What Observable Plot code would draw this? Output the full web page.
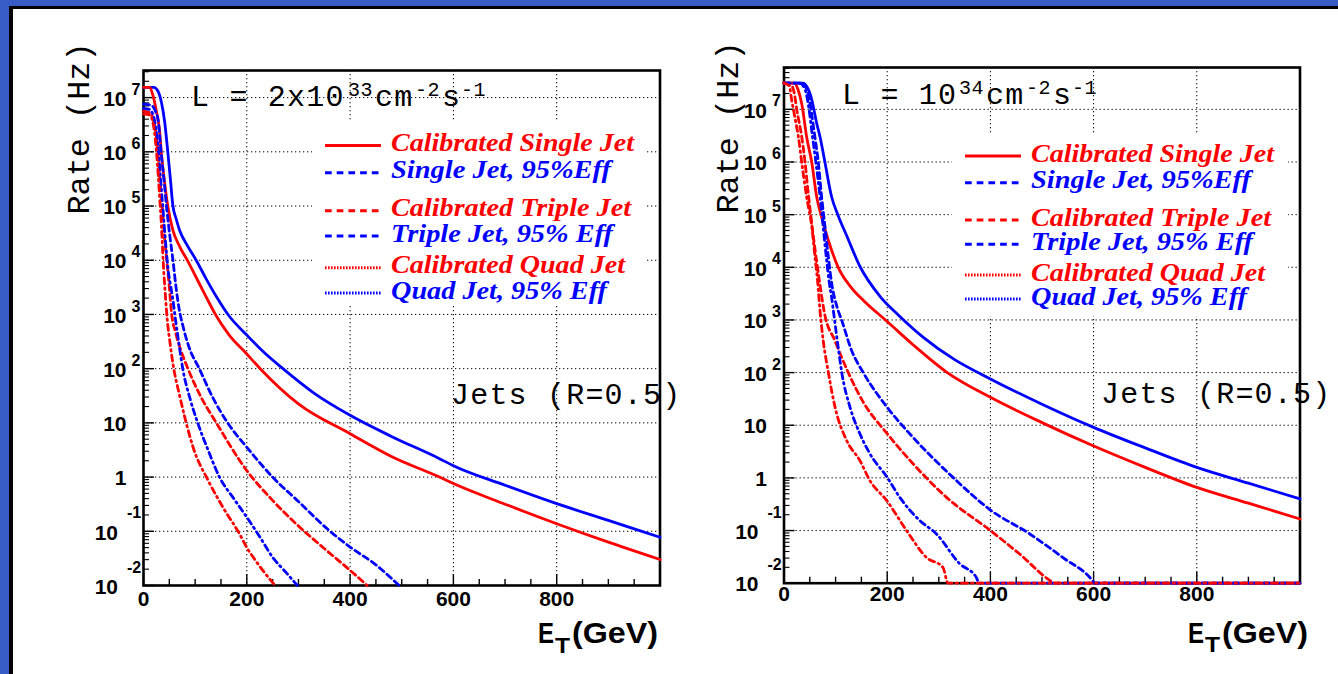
<!DOCTYPE html>
<html><head><meta charset="utf-8">
<script src="https://cdn.jsdelivr.net/npm/d3@7"></script>
<script src="https://cdn.jsdelivr.net/npm/@observablehq/plot@0.6"></script>
<style>
html,body{margin:0;padding:0;overflow:hidden;background:#fff;}
#page{position:relative;width:1338px;height:674px;background:#385cc6;overflow:hidden;}
#sheet{position:absolute;left:9px;top:6px;right:0;bottom:0;background:#fff;border-left:4px solid #000;border-top:3px solid #000;}
#charts{position:absolute;left:0;top:0;width:1338px;height:674px;}
</style></head><body>
<div id="page"><div id="sheet"></div><div id="charts"></div></div>
<script>
// ---------- tick labels ----------
const xTickLabels = [0, 200, 400, 600, 800];
const yTickExp  = [-2, -1, 0, 1, 2, 3, 4, 5, 6, 7];
const yTickBase = ["10", "10", "1", "10", "10", "10", "10", "10", "10", "10"];
const yTickSup  = ["-2", "-1", "", "", "2", "3", "4", "5", "6", "7"];

// ---------- legend ----------
const seriesNames  = ["Calibrated Single Jet", "Single Jet, 95%Eff", "Calibrated Triple Jet", "Triple Jet, 95% Eff", "Calibrated Quad Jet", "Quad Jet, 95% Eff"];
const seriesColors = ["#ff0000", "#0000ff", "#ff0000", "#0000ff", "#ff0000", "#0000ff"];

// ---------- left panel: L = 2x10^33 cm^-2 s^-1  (E_T in GeV, log10 of rate in Hz) ----------
const A_calSingle_E   = [0, 12, 18, 25, 31, 34.4, 40, 47, 57, 70, 86, 100, 121, 141, 166, 200, 226, 300, 400, 480, 573, 600, 700, 800, 900, 1000];
const A_calSingle_lgR = [7.19, 7.19, 7.05, 6.75, 6.4, 6.0, 5.5, 5.0, 4.55, 4.25, 3.98, 3.72, 3.33, 2.97, 2.62, 2.27, 2.0, 1.35, 0.8, 0.38, 0.0, -0.12, -0.5, -0.86, -1.2, -1.52];
const A_single95_E    = [0, 20, 28, 35, 41, 47, 52, 57, 63, 70, 85, 102, 120, 141, 165, 200, 230, 270, 330, 400, 480, 573, 600, 700, 800, 900, 1000];
const A_single95_lgR  = [7.19, 7.19, 7.12, 6.9, 6.55, 6.0, 5.5, 5.0, 4.77, 4.55, 4.27, 4.0, 3.68, 3.33, 2.98, 2.62, 2.33, 2.0, 1.55, 1.14, 0.75, 0.34, 0.21, -0.15, -0.49, -0.8, -1.11];
const A_calTriple_E   = [0, 12, 20, 26, 31, 36, 41, 46, 50, 54, 62, 72, 86, 110, 141, 200, 250, 302, 354, 400, 433];
const A_calTriple_lgR = [6.75, 6.72, 6.55, 6.2, 5.6, 5.0, 4.4, 3.9, 3.5, 3.05, 2.67, 2.35, 2.0, 1.5, 1.0, 0.12, -0.43, -0.92, -1.35, -1.72, -2.0];
const A_triple95_E    = [0, 15, 23, 28, 34, 40, 45, 51, 57, 63, 69, 76, 88, 108, 135, 163, 200, 250, 300, 360, 400, 450, 495];
const A_triple95_lgR  = [6.88, 6.86, 6.75, 6.6, 6.0, 5.45, 4.95, 4.45, 4.0, 3.5, 3.1, 2.8, 2.4, 2.0, 1.45, 1.0, 0.55, 0.0, -0.45, -0.99, -1.29, -1.62, -2.0];
const A_calQuad_E     = [0, 12, 20, 26, 31, 35, 38, 42, 46, 51, 57, 70, 80, 96, 125, 154, 186, 200, 217, 246, 255];
const A_calQuad_lgR   = [6.7, 6.68, 6.45, 5.9, 5.2, 4.6, 4.0, 3.4, 2.9, 2.5, 2.09, 1.5, 1.1, 0.55, -0.06, -0.56, -1.05, -1.3, -1.54, -1.9, -2.0];
const A_quad95_E      = [0, 12, 22, 28, 33, 38, 43, 48, 53, 57, 62, 68, 76, 90, 105, 125, 147, 175, 200, 225, 250, 275, 298];
const A_quad95_lgR    = [6.8, 6.78, 6.55, 6.1, 5.5, 4.9, 4.3, 3.8, 3.5, 3.26, 2.9, 2.5, 2.0, 1.45, 1.0, 0.5, 0.0, -0.4, -0.74, -1.1, -1.48, -1.75, -2.0];

// ---------- right panel: L = 10^34 cm^-2 s^-1 ----------
const B_calSingle_E   = [0, 20, 27, 34.5, 44, 54, 63.5, 73, 89, 105, 130, 155, 200, 250, 315, 400, 500, 598, 700, 800, 900, 1000];
const B_calSingle_lgR = [7.5, 7.5, 7.38, 7.1, 6.47, 5.98, 5.33, 4.95, 4.42, 4.0, 3.62, 3.36, 2.97, 2.53, 2.01, 1.53, 1.05, 0.615, 0.2, -0.18, -0.48, -0.78];
const B_single95_E    = [0, 37, 45, 52, 57, 63, 70, 79.6, 92.5, 105, 121.5, 147, 186, 221, 270, 330, 400, 500, 600, 700, 800, 900, 1000];
const B_single95_lgR  = [7.5, 7.5, 7.42, 7.25, 7.04, 6.75, 6.47, 5.98, 5.33, 4.98, 4.6, 4.02, 3.45, 3.1, 2.67, 2.25, 1.88, 1.4, 0.96, 0.57, 0.2, -0.1, -0.4];
const B_calTriple_E   = [0, 15, 20, 25, 34.5, 41, 47, 53, 58, 63.5, 70, 78, 99, 124.6, 153.6, 200, 250, 315, 400, 456, 521, 525, 1000];
const B_calTriple_lgR = [7.5, 7.45, 7.3, 6.98, 6.47, 5.98, 5.4, 4.9, 4.5, 4.1, 3.65, 3.15, 2.6, 2.0, 1.44, 0.84, 0.27, -0.37, -1.0, -1.44, -1.98, -2.0, -2.0];
const B_triple95_E    = [0, 30, 40, 47, 53, 60, 66.7, 73, 79.6, 86, 92.5, 102, 112, 131, 153.6, 200, 250, 327.5, 400, 475.7, 540, 598, 602, 1000];
const B_triple95_lgR  = [7.5, 7.5, 7.45, 7.3, 6.95, 6.47, 5.98, 5.33, 4.76, 4.19, 3.69, 3.27, 2.99, 2.42, 2.0, 1.34, 0.77, 0.01, -0.61, -1.06, -1.51, -1.95, -2.0, -2.0];
const B_calQuad_E     = [0, 10, 15, 22, 28, 34.5, 44, 54, 60, 65, 70, 76, 86, 99, 121.5, 147, 166.5, 199, 237.5, 276, 308, 318, 1000];
const B_calQuad_lgR   = [7.5, 7.45, 7.17, 6.8, 6.47, 5.98, 5.33, 4.76, 4.2, 3.75, 3.15, 2.61, 2.0, 1.34, 0.71, 0.33, -0.05, -0.43, -1.0, -1.51, -1.7, -2.0, -2.0];
const B_quad95_E      = [0, 30, 40, 47, 55, 62, 70, 76, 82, 88, 92, 96, 105, 112, 128, 147, 166.5, 200, 224.5, 263, 295, 340.5, 372.7, 378, 1000];
const B_quad95_lgR    = [7.5, 7.5, 7.4, 7.1, 6.5, 5.98, 5.33, 4.76, 4.19, 3.69, 3.45, 3.15, 2.48, 2.0, 1.34, 0.84, 0.46, 0.01, -0.37, -0.81, -1.06, -1.63, -1.89, -2.0, -2.0];

// ---------- helpers ----------
const table = (E, lg) => E.map((e, i) => ({E: e, rate: Math.pow(10, lg[i])}));
const SANS = "Liberation Sans, Arial, Helvetica, sans-serif";
const MONO = "Liberation Mono, Courier New, monospace";
const SERIF = "Liberation Serif, Times New Roman, serif";
const dashTriple = "6 4";
const dashQuad = "6 4 1.5 4";

function buildPanel(cfg) {
  const innerW = cfg.right - cfg.left, innerH = cfg.bottom - cfg.top;
  const yGrid = [-1, 0, 1, 2, 3, 4, 5, 6, 7].map(e => Math.pow(10, e));
  const yMajor = yTickExp.map(e => Math.pow(10, e));
  const yMinor = [];
  for (let e = -2; e <= 7; e++) for (let m = 2; m <= 9; m++) { const v = m * Math.pow(10, e); if (v < cfg.yMax) yMinor.push(v); }
  const xMajor = [0, 200, 400, 600, 800, 1000];
  const xMinor = d3.range(50, 1000, 50).filter(v => v % 200 !== 0);
  const gridStyle = {stroke: "#000", strokeOpacity: 1, strokeWidth: 1, strokeDasharray: "1.3 2.7"};
  const labels = yTickExp.map((e, i) => ({v: Math.pow(10, e), base: yTickBase[i], sup: yTickSup[i], neg: e < 0}));
  const lw = 2.8;
  const s = cfg.series;
  const marks = [
    Plot.gridX([200, 400, 600, 800], gridStyle),
    Plot.gridY(yGrid, gridStyle),
    Plot.tickY(yMinor, {y: d => d, insetRight: innerW - 6, stroke: "#000", strokeWidth: 1.1}),
    Plot.tickY(yMajor, {y: d => d, insetRight: innerW - 11, stroke: "#000", strokeWidth: 1.4}),
    Plot.tickX(xMinor, {x: d => d, insetTop: innerH - 6, stroke: "#000", strokeWidth: 1.4}),
    Plot.tickX(xMajor, {x: d => d, insetTop: innerH - 11, stroke: "#000", strokeWidth: 1.4}),
    Plot.frame({stroke: "#000", strokeWidth: 2.6}),
    Plot.line(table(s[1][0], s[1][1]), {x: "E", y: "rate", stroke: seriesColors[1], strokeWidth: lw, curve: "monotone-x"}),
    Plot.line(table(s[0][0], s[0][1]), {x: "E", y: "rate", stroke: seriesColors[0], strokeWidth: lw, curve: "monotone-x"}),
    Plot.line(table(s[3][0], s[3][1]), {x: "E", y: "rate", stroke: seriesColors[3], strokeWidth: lw, strokeDasharray: dashTriple, curve: "monotone-x"}),
    Plot.line(table(s[2][0], s[2][1]), {x: "E", y: "rate", stroke: seriesColors[2], strokeWidth: lw, strokeDasharray: dashTriple, curve: "monotone-x"}),
    Plot.line(table(s[5][0], s[5][1]), {x: "E", y: "rate", stroke: seriesColors[5], strokeWidth: lw, strokeDasharray: dashQuad, curve: "monotone-x"}),
    Plot.line(table(s[4][0], s[4][1]), {x: "E", y: "rate", stroke: seriesColors[4], strokeWidth: lw, strokeDasharray: dashQuad, curve: "monotone-x"}),
    // y tick labels
    Plot.text(labels.filter(d => !d.neg), {y: "v", text: "base", frameAnchor: "left", textAnchor: "end", dx: -17, dy: 1.5, fontSize: 21, fontWeight: "bold", fontFamily: SANS, fill: "#000"}),
    Plot.text(labels.filter(d => d.neg), {y: "v", text: "base", frameAnchor: "left", textAnchor: "end", dx: -25.5, dy: 1.5, fontSize: 21, fontWeight: "bold", fontFamily: SANS, fill: "#000"}),
    Plot.text(labels.filter(d => !d.neg && d.sup), {y: "v", text: "sup", frameAnchor: "left", textAnchor: "start", dx: -12, dy: -8, fontSize: 16, fontWeight: "bold", fontFamily: SANS, fill: "#000"}),
    Plot.text(labels.filter(d => d.neg), {y: "v", text: "sup", frameAnchor: "left", textAnchor: "start", dx: -16.5, dy: -18, fontSize: 16, fontWeight: "bold", fontFamily: SANS, fill: "#000"}),
    // x tick labels
    Plot.text(xTickLabels, {x: d => d, text: d => String(d), frameAnchor: "bottom", dy: cfg.xLabelDy, fontSize: 21, fontWeight: "bold", fontFamily: SANS, fill: "#000"})
  ];
  const svg = Plot.plot({
    width: 1338, height: 674,
    marginLeft: cfg.left, marginRight: 1338 - cfg.right, marginTop: cfg.top, marginBottom: 674 - cfg.bottom,
    x: {domain: [0, 1000], axis: null},
    y: {type: "log", domain: [0.01, cfg.yMax], axis: null},
    marks
  });
  svg.style.position = "absolute";
  svg.style.left = "0px";
  svg.style.top = "0px";
  svg.style.background = "transparent";
  svg.style.overflow = "visible";
  svg.style.maxWidth = "none";
  svg.style.width = "1338px";
  svg.style.height = "674px";
  annotate(svg, cfg);
  return svg;
}

function annotate(svg, a) {
  const g = d3.select(svg).append("g").attr("text-anchor", "start");
  // legend box
  g.append("rect").attr("x", a.box[0]).attr("y", a.box[1]).attr("width", a.box[2] - a.box[0]).attr("height", a.box[3] - a.box[1]).attr("fill", "#fff");
  const dashes = [null, "6.7 5", "6.7 5", "6.7 5", "1.6 1.4", "1.6 1.4"];
  const widths = [243, 220, 240, 222, 234, 216];
  seriesNames.forEach((name, i) => {
    const ln = g.append("line").attr("x1", a.legX1).attr("x2", a.legX2).attr("y1", a.legY[i]).attr("y2", a.legY[i])
      .attr("stroke", seriesColors[i]).attr("stroke-width", 3);
    if (dashes[i]) ln.attr("stroke-dasharray", dashes[i]);
    g.append("text").attr("x", a.legTx).attr("y", a.legY[i] + 5.5).attr("text-anchor", "start")
      .attr("font-family", SERIF).attr("font-weight", "bold").attr("font-style", "italic").attr("font-size", 25.5)
      .attr("fill", seriesColors[i]).attr("textLength", widths[i]).attr("lengthAdjust", "spacingAndGlyphs").text(name);
  });
  // luminosity label
  const lt = g.append("g").attr("font-family", MONO).attr("fill", "#000");
  a.lumi.forEach(p => {
    lt.append("text").attr("x", p[0]).attr("y", a.lumiY + (p[2] ? -10 : 0)).attr("text-anchor", "start")
      .attr("font-size", p[2] ? 20 : 30).attr("letter-spacing", p[2] ? 0.6 : 1.2).text(p[1]);
  });
  // Jets (R=0.5)
  g.append("text").attr("x", a.jets[0]).attr("y", a.jets[1]).attr("text-anchor", "start").attr("font-family", MONO).attr("font-size", 30)
    .attr("letter-spacing", 1.2).attr("fill", "#000").text("Jets (R=0.5)");
  // y title
  g.append("text").attr("transform", `translate(${a.yTitle[0]},${a.yTitle[1]}) rotate(-90)`)
    .attr("text-anchor", "middle").attr("font-family", MONO).attr("font-size", 32).attr("fill", "#000")
    .attr("textLength", 172).attr("lengthAdjust", "spacingAndGlyphs").text("Rate (Hz)");
  // x title E_T(GeV)
  const xt = g.append("g").attr("font-family", SANS).attr("font-weight", "bold").attr("fill", "#000").attr("text-anchor", "start");
  xt.append("text").attr("x", a.xTitle[0]).attr("y", a.xTitle[1]).attr("font-size", 30)
    .attr("textLength", 16).attr("lengthAdjust", "spacingAndGlyphs").text("E");
  xt.append("text").attr("x", a.xTitle[0] + 17).attr("y", a.xTitle[1] + 9.5).attr("font-size", 22)
    .attr("textLength", 15).attr("lengthAdjust", "spacingAndGlyphs").text("T");
  xt.append("text").attr("x", a.xTitle[0] + 34).attr("y", a.xTitle[1]).attr("font-size", 30)
    .attr("textLength", 86).attr("lengthAdjust", "spacingAndGlyphs").text("(GeV)");
}

const host = document.getElementById("charts");
host.appendChild(buildPanel({
  left: 143, right: 659.5, top: 70, bottom: 585, yMax: Math.pow(10, 7.5), xLabelDy: 20.5,
  series: [[A_calSingle_E, A_calSingle_lgR], [A_single95_E, A_single95_lgR], [A_calTriple_E, A_calTriple_lgR],
           [A_triple95_E, A_triple95_lgR], [A_calQuad_E, A_calQuad_lgR], [A_quad95_E, A_quad95_lgR]],
  box: [312, 122, 647, 306], legX1: 325, legX2: 381, legTx: 391,
  legY: [145.5, 172.7, 210.7, 236, 267.7, 293],
  lumi: [[191, "L = 2x10", false], [348, "33", true], [375, "cm", false], [415, "-2", true], [442, "s", false], [461, "-1", true]],
  lumiY: 106, jets: [451, 404], yTitle: [89, 128.5], xTitle: [538, 643]
}));
host.appendChild(buildPanel({
  left: 783.5, right: 1299.5, top: 67, bottom: 582.7, yMax: Math.pow(10, 7.795), xLabelDy: 18,
  series: [[B_calSingle_E, B_calSingle_lgR], [B_single95_E, B_single95_lgR], [B_calTriple_E, B_calTriple_lgR],
           [B_triple95_E, B_triple95_lgR], [B_calQuad_E, B_calQuad_lgR], [B_quad95_E, B_quad95_lgR]],
  box: [952, 133, 1288, 316], legX1: 965, legX2: 1021, legTx: 1031,
  legY: [156, 182.7, 220, 244.3, 275, 299],
  lumi: [[842, "L = 10", false], [959, "34", true], [986, "cm", false], [1026, "-2", true], [1053, "s", false], [1072, "-1", true]],
  lumiY: 104, jets: [1101, 403], yTitle: [737.5, 127.5], xTitle: [1188, 642.5]
}));
</script>
</body></html>
